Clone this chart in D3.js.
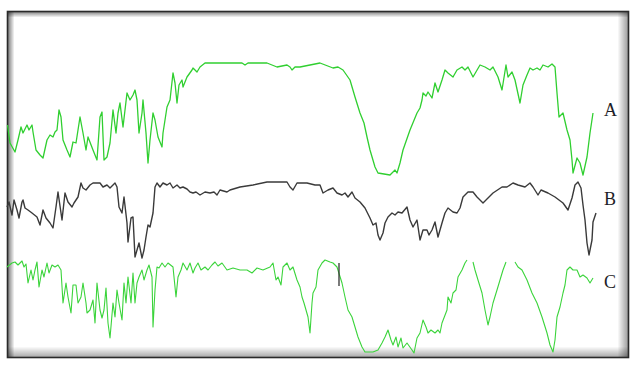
<!DOCTYPE html>
<html>
<head>
<meta charset="utf-8">
<script src="https://cdn.jsdelivr.net/npm/d3@7"></script>
<style>
  html, body { margin: 0; padding: 0; background: #ffffff; }
  svg { display: block; }
</style>
</head>
<body>
<svg id="chart" width="631" height="370"></svg>
<script>
// Spectra: [channel, signal]; null breaks the trace where it leaves its band.
const seriesA = [
  [7.5,235],[10,217],[15,208],[18,220],[21,233],[23,227],[27,235],[29,230],[32,235],[33,228],
  [36,210],[40,205],[43,202],[47,220],[50,225],[53,223],[55,228],[57,230],[59,250],[61,243],
  [63,220],[67,210],[70,203],[73,218],[76,217],[80,243],[83,227],[86,210],[88,223],[93,210],
  [97,200],[100,243],[102,248],[104,200],[107,203],[110,217],[113,250],[116,227],[118,247],[120,257],
  [123,233],[127,267],[130,260],[133,265],[135,270],[137,260],[139,227],[142,247],[143,260],[146,227],
  [148,197],[150,220],[153,247],[155,240],[158,223],[162,213],[163,227],[165,240],[167,253],[170,260],
  [173,287],[175,277],[177,257],[179,275],[182,280],[183,273],[187,283],[192,290],[193,292],[197,288],
  [200,293],[205,297],[242,297],[245,295],[248,297],[267,297],[277,293],[287,295],[290,293],[292,290],
  [295,293],[300,293],[310,295],[320,297],[333,292],[338,293],[343,290],[350,280],[355,263],[360,247],
  [364,237],[367,223],[370,210],[375,193],[378,187],[390,185],[395,190],[397,187],[400,197],[403,210],
  [410,230],[417,247],[420,252],[422,260],[423,267],[426,264],[428,268],[432,262],[435,277],[438,268],
  [442,280],[445,290],[448,287],[453,283],[457,290],[462,293],[465,290],[468,293],[473,283],[480,295],
  [485,293],[490,290],[493,293],[498,283],[502,270],[506,295],[508,283],[512,288],[515,280],[520,257],
  [523,275],[527,285],[530,292],[533,290],[537,292],[540,290],[543,295],[548,293],[552,296],[555,293],
  [557,267],[559,243],[563,247],[567,230],[570,220],[572,200],[573,187],[577,202],[580,197],[583,185],
  [587,203],[590,227],[593,247]
];

const seriesB = [
  [7,153],[9,158],[12,145],[14,160],[17,150],[19,142],[22,158],[23,160],[25,152],[28,150],
  [32,147],[37,143],[40,135],[43,150],[46,142],[50,137],[53,132],[56,153],[58,168],[62,140],
  [65,167],[68,158],[72,153],[74,157],[78,163],[81,177],[83,172],[86,170],[90,175],[93,177],
  [100,177],[103,173],[107,175],[110,172],[115,177],[117,173],[119,153],[122,147],[124,163],[127,137],
  [128,118],[131,142],[133,143],[135,103],[137,110],[139,117],[142,102],[144,110],[146,123],[148,135],
  [150,133],[153,147],[155,173],[157,177],[160,173],[163,177],[167,175],[170,177],[173,172],[177,175],
  [180,172],[183,173],[187,171],[190,168],[193,167],[196,168],[200,165],[205,168],[210,167],[214,168],
  [217,165],[220,170],[227,168],[230,170],[240,173],[253,175],[267,178],[287,178],[290,173],[293,170],
  [297,177],[307,177],[315,175],[320,175],[323,167],[328,170],[333,172],[337,167],[342,165],[345,167],
  [348,163],[352,168],[355,162],[360,158],[365,152],[370,142],[373,135],[376,137],[378,125],[380,120],
  [383,127],[385,137],[388,143],[392,147],[395,145],[398,148],[402,147],[407,153],[410,140],[413,133],
  [417,140],[420,120],[423,130],[427,130],[429,125],[432,130],[435,138],[438,123],[442,137],[445,147],
  [448,152],[453,148],[457,147],[460,152],[463,163],[468,168],[473,168],[477,163],[483,157],[488,162],
  [493,167],[502,173],[507,173],[513,177],[518,175],[525,173],[530,177],[533,173],[538,165],[541,170],
  [548,167],[555,163],[563,157],[568,150],[572,162],[575,175],[578,178],[581,172],[583,155],[585,140],
  [587,117],[589,105],[592,120],[593,138],[596,147]
];

const seriesC = [
  [7,93],[12,97],[15,98],[18,95],[22,99],[24,93],[26,96],[28,77],[31,90],[33,80],
  [35,90],[37,98],[39,73],[42,90],[44,83],[47,97],[49,87],[52,95],[55,93],[58,95],
  [61,90],[63,57],[66,77],[68,63],[71,47],[73,75],[76,75],[78,57],[81,63],[83,77],
  [86,57],[87,47],[90,50],[93,60],[95,37],[97,77],[100,50],[102,42],[104,50],[106,72],
  [108,37],[110,22],[113,57],[115,43],[117,70],[119,57],[122,40],[124,77],[126,57],[128,83],
  [131,57],[133,87],[135,57],[137,77],[139,83],[142,90],[144,80],[147,90],[149,95],[152,83],
  [153,33],[155,70],[157,93],[159,92],[162,97],[165,93],[168,97],[173,93],[176,63],[178,83],
  [181,90],[183,97],[187,90],[190,97],[193,87],[195,92],[198,97],[201,90],[205,93],[208,90],
  [212,95],[215,98],[218,94],[222,97],[227,90],[233,92],[240,90],[247,90],[252,87],[257,92],
  [263,90],[270,93],[273,97],[276,80],[278,83],[281,75],[283,93],[287,97],[290,90],[293,93],
  [297,80],[300,73],[302,63],[304,57],[306,50],[308,43],[310,27],[312,57],[313,67],[316,73],
  [318,90],[322,97],[325,100],[330,98],[333,97],[337,93],[342,77],[345,63],[348,50],[352,43],
  [355,33],[358,23],[362,13],[365,8],[373,8],[378,10],[382,17],[385,23],[388,30],[391,20],
  [393,15],[396,23],[398,13],[401,22],[403,12],[407,17],[412,10],[414,7],[417,22],[420,27],
  [423,40],[426,33],[428,27],[431,30],[435,27],[438,30],[440,27],[442,37],[447,50],[448,63],
  [451,57],[453,67],[456,70],[458,83],[462,90],[465,97],[467,100],
  null,
  [473,98],[475,90],[478,80],[482,67],[485,50],[488,35],[490,43],[493,57],[497,70],[500,80],
  [503,90],[506,98],
  null,
  [515,98],[518,93],[522,90],[527,80],[532,67],[537,57],[542,43],[547,27],[550,15],[553,8],
  [555,20],[557,43],[560,53],[563,67],[565,75],[567,90],[570,93],[573,90],[577,90],[580,83],
  [583,85],[587,82],[590,77],[593,82]
];

// Short reference tick on trace C: [channel, from, to]
const referenceTicks = [[339, 97, 74]];

const seriesNames = ["A", "B", "C"];

// ---- drawing ----
const W = 631, H = 370;
const frame = { x0: 7.5, y0: 11.5, x1: 628.5, y1: 357.5 };

const svg = d3.select("#chart");
const x = d3.scaleLinear().domain([0, 631]).range([0, 631]);
const y = d3.scaleLinear().domain([0, 360]).range([360, 0]);

const defs = svg.append("defs");
function grad(id, x1, y1, x2, y2, a0, a1) {
  const g = defs.append("linearGradient").attr("id", id)
    .attr("x1", x1).attr("y1", y1).attr("x2", x2).attr("y2", y2);
  g.append("stop").attr("offset", "0%").attr("stop-color", "#000").attr("stop-opacity", a0);
  g.append("stop").attr("offset", "100%").attr("stop-color", "#000").attr("stop-opacity", a1);
}
grad("shL", 0, 0, 1, 0, 0.55, 0);
grad("shT", 0, 0, 0, 1, 0.5, 0);
grad("shR", 0, 0, 1, 0, 0, 0.4);
grad("shB", 0, 0, 0, 1, 0, 0.35);

svg.append("rect").attr("width", W).attr("height", H).attr("fill", "#fff");

// Inset shading along the frame
const fw = frame.x1 - frame.x0, fh = frame.y1 - frame.y0;
svg.append("rect").attr("x", frame.x0).attr("y", frame.y0).attr("width", 7).attr("height", fh).attr("fill", "url(#shL)");
svg.append("rect").attr("x", frame.x0).attr("y", frame.y0).attr("width", fw).attr("height", 6).attr("fill", "url(#shT)");
svg.append("rect").attr("x", frame.x1 - 11).attr("y", frame.y0).attr("width", 11).attr("height", fh).attr("fill", "url(#shR)");
svg.append("rect").attr("x", frame.x0).attr("y", frame.y1 - 11).attr("width", fw).attr("height", 11).attr("fill", "url(#shB)");

svg.append("rect")
  .attr("x", frame.x0).attr("y", frame.y0)
  .attr("width", fw).attr("height", fh)
  .attr("fill", "none").attr("stroke", "#2a2a2a").attr("stroke-width", 1.6);

const line = d3.line()
  .defined(d => d !== null)
  .x(d => x(d[0]))
  .y(d => y(d[1]));

const traces = [
  { data: seriesA, color: "#30cf30", width: 1.3 },
  { data: seriesB, color: "#3a3a3a", width: 1.4 },
  { data: seriesC, color: "#3bd43b", width: 1.1 }
];

svg.append("g").selectAll("path")
  .data(traces)
  .join("path")
  .attr("d", d => line(d.data))
  .attr("fill", "none")
  .attr("stroke", d => d.color)
  .attr("stroke-width", d => d.width)
  .attr("stroke-linejoin", "round");

svg.append("g").selectAll("line")
  .data(referenceTicks)
  .join("line")
  .attr("x1", d => x(d[0])).attr("x2", d => x(d[0]))
  .attr("y1", d => y(d[1])).attr("y2", d => y(d[2]))
  .attr("stroke", "#333").attr("stroke-width", 1.3);

// Trace names to the right of each spectrum
const labelPos = [{ x: 604, y: 116 }, { x: 604, y: 205 }, { x: 604, y: 288 }];
svg.append("g").selectAll("text")
  .data(seriesNames)
  .join("text")
  .attr("x", (d, i) => labelPos[i].x)
  .attr("y", (d, i) => labelPos[i].y)
  .attr("font-family", "'Liberation Serif', 'DejaVu Serif', serif")
  .attr("font-size", 18)
  .attr("fill", "#1e1e28")
  .text(d => d);
</script>
</body>
</html>
